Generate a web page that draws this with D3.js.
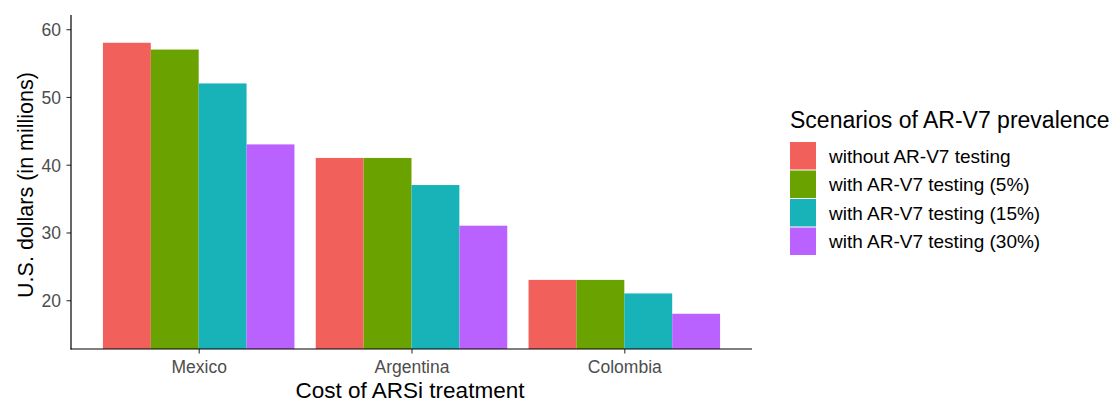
<!DOCTYPE html>
<html><head><meta charset="utf-8">
<script src="https://cdn.jsdelivr.net/npm/d3@7"></script>
<style>body{margin:0;background:#fff;} text{font-family:"Liberation Sans",Arial,sans-serif;}</style>
</head><body><svg id="c" width="1117" height="402"></svg>
<script>
const categories = ["Mexico", "Argentina", "Colombia"];
const seriesNames = ["without AR-V7 testing", "with AR-V7 testing (5%)", "with AR-V7 testing (15%)", "with AR-V7 testing (30%)"];
const withoutTesting = [58, 41, 23];
const testing5 = [57, 41, 23];
const testing15 = [52, 37, 21];
const testing30 = [43, 31, 18];
const yTicks = [20, 30, 40, 50, 60];
const colors = ["#F2605C", "#6AA300", "#18B3B8", "#B962FF"];
const seriesValues = [withoutTesting, testing5, testing15, testing30];

const svg = d3.select("#c");
const L = 71, R = 752, T = 15, B = 349;
const x = d3.scaleLinear().domain([0.4, 3.6]).range([L, R]);
const y = d3.scaleLinear().domain([12.8, 62.1]).range([B, T]);
const barW = 0.9 / seriesNames.length;

const data = [];
seriesValues.forEach((vals, si) => vals.forEach((v, ci) => data.push({si, ci, v})));

svg.append("g").selectAll("rect").data(data).enter().append("rect")
  .attr("x", d => x(d.ci + 1 - 0.45 + d.si * barW))
  .attr("width", d => x(barW) - x(0))
  .attr("y", d => y(d.v))
  .attr("height", d => B - y(d.v))
  .attr("fill", d => colors[d.si]);

// axes
const yAxis = d3.axisLeft(y).tickValues(yTicks).tickSize(4.5).tickPadding(5.5);
const gy = svg.append("g").attr("transform", `translate(${L},0)`).call(yAxis);
gy.select(".domain").remove();
gy.selectAll("line").attr("stroke", "#333").attr("stroke-width", 1.1);
gy.selectAll("text").attr("fill", "#4d4d4d").style("font-size", "17.5px").attr("dy", "0.36em");

const xAxis = d3.axisBottom(x).tickValues([1, 2, 3]).tickFormat((d, i) => categories[i]).tickSize(4.5).tickPadding(7);
const gx = svg.append("g").attr("transform", `translate(0,${B})`).call(xAxis);
gx.select(".domain").remove();
gx.selectAll("line").attr("stroke", "#333").attr("stroke-width", 1.1);
gx.selectAll("text").attr("fill", "#4d4d4d").style("font-size", "17.5px").attr("dy", "0.71em");

svg.append("line").attr("x1", L).attr("x2", L).attr("y1", T).attr("y2", B + 0.5).attr("stroke", "#000").attr("stroke-width", 1.2);
svg.append("line").attr("x1", L - 0.5).attr("x2", R).attr("y1", B).attr("y2", B).attr("stroke", "#000").attr("stroke-width", 1.2);

// titles
svg.append("text").attr("x", 410).attr("y", 398).attr("text-anchor", "middle")
  .style("font-size", "22.5px").attr("fill", "#000").text("Cost of ARSi treatment");
svg.append("text").attr("transform", `translate(33,185) rotate(-90)`).attr("text-anchor", "middle")
  .style("font-size", "21.5px").attr("fill", "#000").text("U.S. dollars (in millions)");

// legend
const lg = svg.append("g");
lg.append("text").attr("x", 790).attr("y", 128).style("font-size", "23px").attr("fill", "#000").text("Scenarios of AR-V7 prevalence");
seriesNames.forEach((n, i) => {
  const yy = 142 + i * 28.5;
  lg.append("rect").attr("x", 790).attr("y", yy).attr("width", 26).attr("height", 27.5).attr("fill", colors[i]);
  lg.append("text").attr("x", 829).attr("y", yy + 14).attr("dy", "0.36em").style("font-size", "19px").attr("fill", "#000").text(n);
});
</script></body></html>
